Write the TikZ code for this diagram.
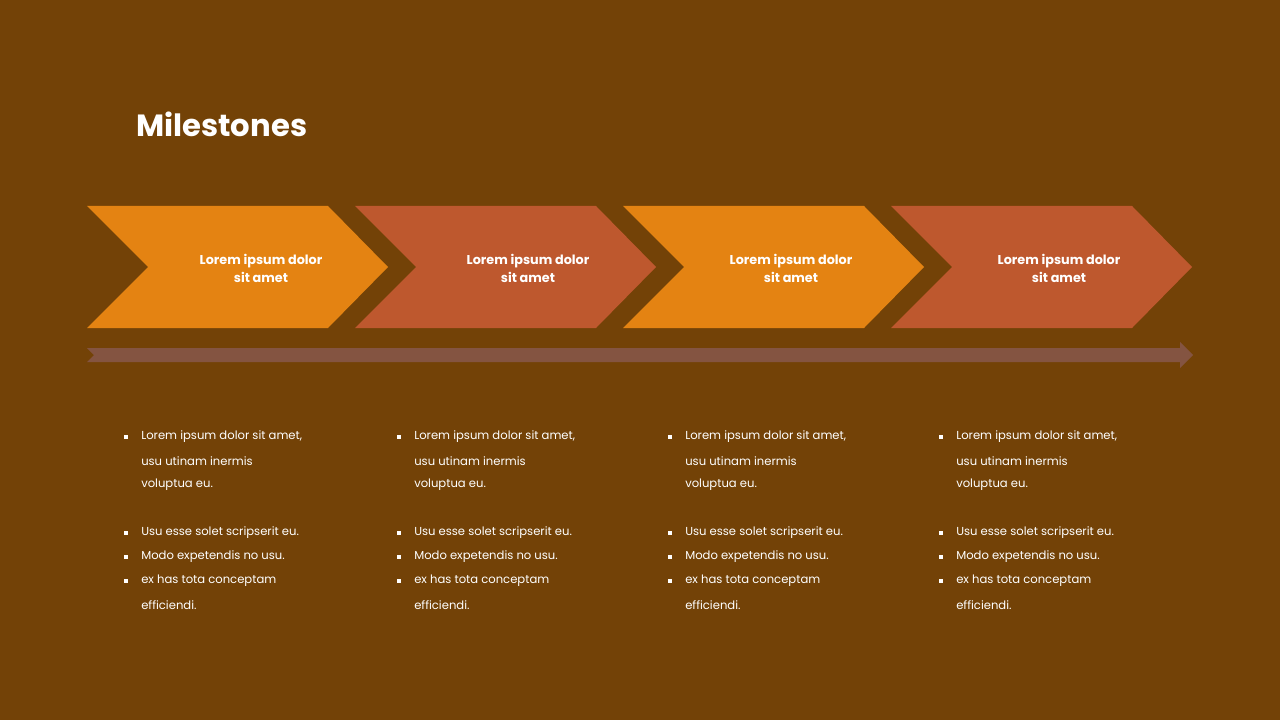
\documentclass[tikz,border=0pt]{standalone}
\usepackage{fontspec}
\setmainfont{Poppins}
\definecolor{bg}{HTML}{734207}
\definecolor{orng}{HTML}{E48312}
\definecolor{rust}{HTML}{BE582E}
\definecolor{band}{HTML}{845441}
\begin{document}
\begin{tikzpicture}[x=0.75pt,y=-0.75pt,
  lbl/.style={text=white,font=\fontsize{9.6}{13.5}\selectfont\bfseries,align=center},
  body/.style={text=white,font=\fontsize{8.7}{10}\selectfont,anchor=west,inner sep=0pt},
  bul/.style={fill=white,minimum size=3pt,inner sep=0pt}]
\fill[bg] (0,0) rectangle (1280,720);
\useasboundingbox (0,0) rectangle (1280,720);
\node[text=white,font=\fontsize{23}{28}\selectfont\bfseries,anchor=west,inner sep=0pt] (title) at (136,124) {Milestones};
\foreach \i/\c/\lx in {0/orng/261,1/rust/528,2/orng/791,3/rust/1059}{
  \fill[\c] ({87+268*\i},206) -- ({328+268*\i},206) -- ({388+268*\i},267) -- ({328+268*\i},328) -- ({87+268*\i},328) -- ({148+268*\i},267) -- cycle;
  \node[lbl] (c\i) at (\lx,268) {Lorem ipsum dolor\\sit amet};
}
\fill[band] (87,348) -- (1180,348) -- (1180,342) -- (1193,355) -- (1180,368) -- (1180,362) -- (87,362) -- (94,355) -- cycle;
\foreach \i/\x in {0/141,1/414,2/685,3/956}{
  \node[bul] at (\x-15,437) {};
  \node[body] (a\i) at (\x,437) {Lorem ipsum dolor sit amet,};
  \node[body] at (\x,461) {usu utinam inermis};
  \node[body] at (\x,485) {voluptua eu.};
  \node[bul] at (\x-15,533) {};
  \node[body] at (\x,533) {Usu esse solet scripserit  eu.};
  \node[bul] at (\x-15,557) {};
  \node[body] at (\x,557) {Modo expetendis no usu.};
  \node[bul] at (\x-15,581) {};
  \node[body] at (\x,581) {ex has tota  conceptam};
  \node[body] at (\x,605) {efficiendi.};
}
\end{tikzpicture}
\end{document}
